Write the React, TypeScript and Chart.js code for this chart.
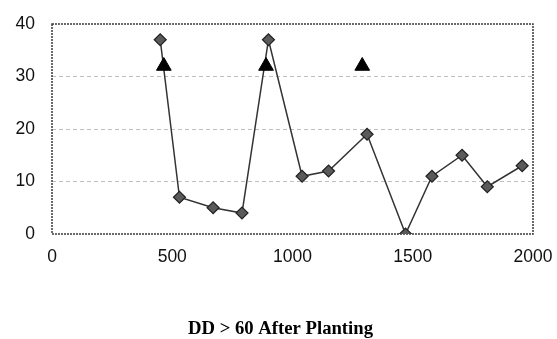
import React, { useEffect, useRef } from "react";
import { Chart, registerables } from "chart.js";

Chart.register(...registerables);

const diamondX = [450, 530, 670, 790, 900, 1040, 1150, 1310, 1470, 1580, 1705, 1810, 1955];
const diamondY = [37, 7, 5, 4, 37, 11, 12, 19, 0, 11, 15, 9, 13];
const triangleX = [465, 890, 1290];
const triangleY = [32, 32, 32];
const xTickMin = 0;
const xTickMax = 2000;
const xTickStep = 500;
const yTickMin = 0;
const yTickMax = 40;
const yTickStep = 10;
const axisTitle = "DD > 60 After Planting";

const frameAndTitle = {
  id: "frameAndTitle",
  beforeDatasetsDraw(chart: any) {
    const { ctx, chartArea } = chart;
    ctx.save();
    ctx.strokeStyle = "#3a3a3a";
    ctx.lineWidth = 1.5;
    ctx.setLineDash([2, 1]);
    ctx.strokeRect(
      chartArea.left,
      chartArea.top,
      chartArea.right - chartArea.left,
      chartArea.bottom - chartArea.top
    );
    ctx.restore();
  },
  afterDraw(chart: any) {
    const { ctx, chartArea } = chart;
    ctx.save();
    ctx.font = 'bold 18.7px "Liberation Serif", "Times New Roman", serif';
    ctx.fillStyle = "#000";
    ctx.textAlign = "center";
    ctx.textBaseline = "alphabetic";
    const cx = (chartArea.left + chartArea.right) / 2 - 12;
    ctx.fillText(axisTitle, cx, 334);
    ctx.restore();
  },
};

export default function App() {
  const ref = useRef<HTMLCanvasElement | null>(null);
  useEffect(() => {
    if (!ref.current) return;
    const chart = new Chart(ref.current, {
      type: "scatter",
      data: {
        datasets: [
          {
            label: "triangles",
            data: triangleX.map((x, i) => ({ x, y: triangleY[i] })),
            showLine: false,
            pointStyle: "triangle",
            pointRadius: 8.5,
            pointBackgroundColor: "#000",
            pointBorderColor: "#000",
            pointBorderWidth: 1,
          },
          {
            label: "diamonds",
            data: diamondX.map((x, i) => ({ x, y: diamondY[i] })),
            showLine: true,
            borderColor: "#333",
            borderWidth: 1.5,
            pointStyle: "rectRot",
            pointRadius: 6,
            pointBackgroundColor: "#5a5a5a",
            pointBorderColor: "#222",
            pointBorderWidth: 1.2,
          },
        ],
      },
      options: {
        animation: false,
        responsive: false,
        layout: { padding: { left: 0, right: 24, top: 24, bottom: 0 } },
        plugins: {
          legend: { display: false },
          tooltip: { enabled: false },
        },
        scales: {
          x: {
            type: "linear",
            min: xTickMin,
            max: xTickMax,
            ticks: {
              stepSize: xTickStep,
              color: "#111",
              padding: 13,
              maxRotation: 0,
              font: { family: '"Liberation Sans", Arial, sans-serif', size: 17.5 },
              callback: (v: any) => String(v),
            },
            grid: { display: false, drawTicks: false },
            border: { display: false },
            afterFit(scale: any) {
              scale.height = 105;
              scale.paddingLeft = 0;
              scale.paddingRight = 0;
              scale.paddingTop = 0;
              scale.paddingBottom = 0;
            },
          },
          y: {
            type: "linear",
            min: yTickMin,
            max: yTickMax,
            ticks: {
              stepSize: yTickStep,
              color: "#111",
              padding: 17,
              font: { family: '"Liberation Sans", Arial, sans-serif', size: 17.5 },
              callback: (v: any) => String(v),
            },
            grid: {
              drawTicks: false,
              lineWidth: 1,
              color: (c: any) =>
                c.tick && (c.tick.value === 0 || c.tick.value === 40) ? "rgba(0,0,0,0)" : "#c0c0c0",
            },
            border: { display: false, dash: [4, 3] },
            afterFit(scale: any) {
              scale.width = 52;
              scale.paddingTop = 0;
              scale.paddingBottom = 0;
              scale.paddingLeft = 0;
              scale.paddingRight = 0;
            },
          },
        },
      },
      plugins: [frameAndTitle],
    });
    return () => chart.destroy();
  }, []);
  return (
    <div style={{ position: "fixed", left: 0, top: 0, width: 557, height: 339, background: "#fff" }}>
      <canvas ref={ref} width={557} height={339} />
    </div>
  );
}
